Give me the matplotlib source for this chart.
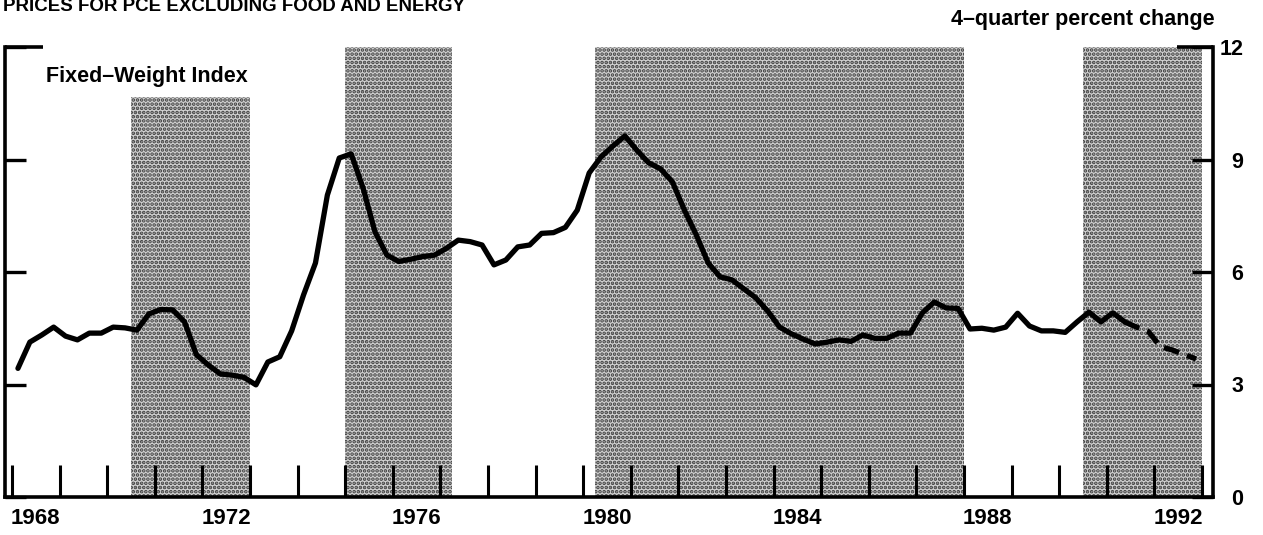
import numpy as np
import matplotlib.pyplot as plt
import matplotlib.transforms as mtransforms

plt.rcParams['font.family'] = ['Liberation Sans', 'DejaVu Sans']
plt.rcParams['font.weight'] = 'bold'
plt.rcParams['hatch.linewidth'] = 1.8

# quarterly 4-quarter percent change, 1968Q1 .. 1992Q4
first_year = 1968
pce_core = [3.43, 4.13, 4.32, 4.53, 4.29, 4.19, 4.37, 4.37,
            4.53, 4.51, 4.45, 4.88, 5.00, 4.99, 4.67, 3.79,
            3.52, 3.28, 3.25, 3.19, 2.99, 3.60, 3.74, 4.43,
            5.39, 6.24, 8.05, 9.04, 9.15, 8.24, 7.07, 6.45,
            6.28, 6.34, 6.41, 6.45, 6.63, 6.85, 6.81, 6.72,
            6.19, 6.32, 6.67, 6.72, 7.03, 7.05, 7.19, 7.65,
            8.64, 9.07, 9.36, 9.63, 9.25, 8.91, 8.75, 8.40,
            7.65, 6.99, 6.24, 5.87, 5.79, 5.55, 5.31, 4.96,
            4.53, 4.35, 4.21, 4.08, 4.13, 4.19, 4.15, 4.32,
            4.23, 4.23, 4.37, 4.37, 4.91, 5.20, 5.04, 5.03,
            4.48, 4.50, 4.45, 4.53, 4.90, 4.56, 4.43, 4.43,
            4.39, 4.67, 4.93, 4.67, 4.91, 4.67]
# projection (dashed)
pce_proj = [4.67, 4.53, 4.41, 4.01, 3.92, 3.80, 3.68]

shade_start = [1970.5, 1975.0, 1980.25, 1990.5]
shade_end = [1973.0, 1977.25, 1988.0, 1993.0]
shade_top = [10.67, 12, 12, 12]

year_labels = [1968, 1972, 1976, 1980, 1984, 1988, 1992]
y_ticks = [0, 3, 6, 9, 12]

t_hist = first_year + 0.125 + 0.25 * np.arange(len(pce_core))
t_proj = t_hist[-1] + 0.25 * np.arange(len(pce_proj))

fig = plt.figure(figsize=(12.63, 5.35), dpi=100)
ax = fig.add_axes([5/1263, 38/535, 1208/1263, 450/535])

for s, e, top in zip(shade_start, shade_end, shade_top):
    ax.fill_between([s, e], 0, top, facecolor='#d0d0d0', edgecolor='#3c3c3c',
                    hatch='....', linewidth=0, zorder=1)

ax.plot(t_hist, pce_core, color='black', lw=3.8, solid_joinstyle='round',
        solid_capstyle='round', zorder=3)
ax.plot(t_proj, pce_proj, color='black', lw=3.8, dashes=(3.0, 1.6), zorder=3)

ax.set_xlim(1967.853, 1993.23)
ax.set_ylim(0, 12)

for side in ['left', 'right', 'bottom']:
    ax.spines[side].set_linewidth(2.6)
ax.spines['top'].set_visible(False)

ax.set_xticks(np.arange(1968, 1994))
ax.set_xticklabels([])
ax.set_xticks([y + 0.5 for y in year_labels], minor=True)
ax.set_xticklabels([str(y) for y in year_labels], minor=True, fontsize=16)
ax.tick_params(axis='x', which='major', direction='in', length=23, width=2.2)
ax.tick_params(axis='x', which='minor', length=0, pad=8)

ax.set_yticks(y_ticks)
ax.set_yticklabels([str(v) for v in y_ticks], fontsize=15.5)
ax.tick_params(axis='y', direction='in', length=15, width=2.4, left=True,
               right=True, labelleft=False, labelright=True, pad=22)
for lab in ax.get_yticklabels():
    lab.set_horizontalalignment('right')

# longer corner pieces at the 12 line
trans = mtransforms.blended_transform_factory(ax.transAxes, ax.transData)
ax.plot([0, 38/1208], [12, 12], color='black', lw=2.6, transform=trans,
        clip_on=False, solid_capstyle='butt')
ax.plot([1 - 36/1208, 1], [12, 12], color='black', lw=2.6, transform=trans,
        clip_on=False, solid_capstyle='butt')

ax.text(41/1208, 11.07, 'Fixed\u2013Weight Index', fontsize=15.5, ha='left',
        va='baseline', transform=trans)

fig.text(3/1263, 1 - 11/535, 'PRICES FOR PCE EXCLUDING FOOD AND ENERGY',
         fontsize=13.5, ha='left', va='baseline')
fig.text(1215/1263, 1 - 25/535, '4\u2013quarter percent change', fontsize=15.5,
         ha='right', va='baseline')

fig.savefig('out.png', dpi=100)
